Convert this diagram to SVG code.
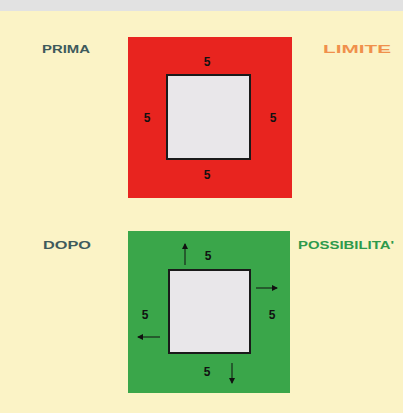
<svg xmlns="http://www.w3.org/2000/svg" width="403" height="413" viewBox="0 0 403 413">
<defs>
<style>
.lbl{font-family:"Liberation Sans",Arial,sans-serif;font-weight:bold;font-size:11px;}
.num{font-family:"Liberation Sans",Arial,sans-serif;font-weight:bold;font-size:12px;fill:#111;text-anchor:middle;}
.inner{fill:#e9e7ea;stroke:#1a1a1a;stroke-width:2;}
.arr{stroke:#111;stroke-width:1;fill:none;marker-end:url(#ah);}
</style>
<marker id="ah" viewBox="0 0 6 6" refX="5" refY="3" markerWidth="6" markerHeight="6" orient="auto"><path d="M0,0 L6,3 L0,6 Z" fill="#111"/></marker>
</defs>
<rect x="0" y="0" width="403" height="413" fill="#fbf3c6"/>
<rect x="0" y="0" width="403" height="11" fill="#e2e2e2"/>
<g id="prima">
<text class="lbl" x="42" y="53" fill="#3e5a5c" textLength="48" lengthAdjust="spacingAndGlyphs">PRIMA</text>
</g>
<g id="limite">
<text class="lbl" x="323" y="53" fill="#f0904c" textLength="68" lengthAdjust="spacingAndGlyphs">LIMITE</text>
</g>
<g id="red-square">
<rect x="128" y="37" width="164" height="161" fill="#e8241f"/>
<rect class="inner" x="167" y="75" width="83" height="84"/>
<text class="num" x="207" y="66">5</text>
<text class="num" x="207" y="179">5</text>
<text class="num" x="147" y="122">5</text>
<text class="num" x="273" y="122">5</text>
</g>
<g id="dopo">
<text class="lbl" x="43" y="249" fill="#3e5a5c" textLength="48" lengthAdjust="spacingAndGlyphs">DOPO</text>
</g>
<g id="possibilita">
<text class="lbl" x="298" y="249" fill="#2e9a4c" textLength="96" lengthAdjust="spacingAndGlyphs">POSSIBILITA'</text>
</g>
<g id="green-square">
<rect x="128" y="231" width="162" height="162" fill="#3aa64a"/>
<rect class="inner" x="169" y="270" width="81" height="83"/>
<text class="num" x="208" y="260">5</text>
<text class="num" x="207" y="376">5</text>
<text class="num" x="145" y="319">5</text>
<text class="num" x="272" y="319">5</text>
</g>
<g id="connectors">
<line class="arr" x1="185" y1="265" x2="185" y2="244"/>
<line class="arr" x1="256" y1="288" x2="277" y2="288"/>
<line class="arr" x1="160" y1="337" x2="138" y2="337"/>
<line class="arr" x1="232" y1="363" x2="232" y2="383"/>
</g>
</svg>
